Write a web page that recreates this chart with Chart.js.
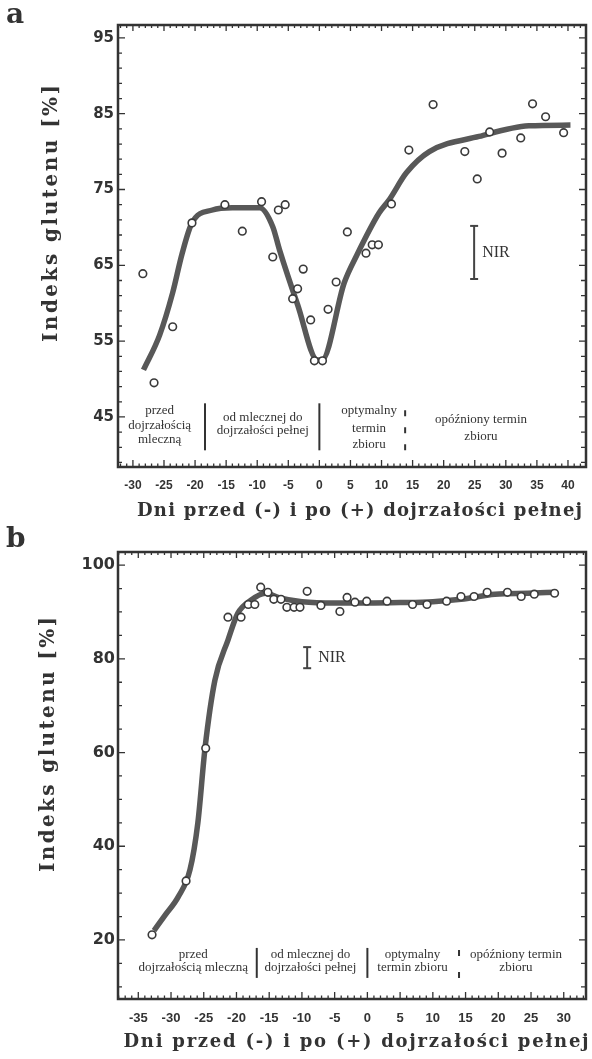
<!DOCTYPE html>
<html><head><meta charset="utf-8">
<script src="https://cdn.jsdelivr.net/npm/chart.js@4.4.1/dist/chart.umd.min.js"></script>
<style>
html,body{margin:0;padding:0;background:#fff;}
#wrap{position:relative;width:592px;height:1059px;overflow:hidden;background:#fff;}
canvas{position:absolute;left:0;}
#ca{top:0;} #cb{top:530px;}
.lab{position:absolute;font:bold 28px 'DejaVu Serif';color:#333;line-height:28px;}
</style></head><body>
<div id="wrap">
<canvas id="ca" width="592" height="530"></canvas>
<canvas id="cb" width="592" height="529"></canvas>
<div class="lab" style="left:6px;top:0px">a</div>
<div class="lab" style="left:6px;top:524px">b</div>
</div>
<script>
// ---------- data: panel a ----------
const A_DAYS = [-28.4,-26.6,-23.6,-20.5,-15.2,-12.4,-9.3,-7.5,-6.6,-5.5,-4.3,-3.5,-2.6,-1.4,-0.8,0.5,1.4,2.7,4.5,7.5,8.5,9.5,11.6,14.4,18.3,23.4,25.4,27.4,29.4,32.4,34.3,36.4,39.3];
const A_GLUTEN = [63.9,49.5,56.9,70.6,73.0,69.5,73.4,66.1,72.3,73.0,60.6,61.9,64.5,57.8,52.4,52.4,59.2,62.8,69.4,66.6,67.7,67.7,73.1,80.2,86.2,80.0,76.4,82.6,79.8,81.8,86.3,84.6,82.5];
const A_FIT_DAYS = [-28.3,-25.7,-23.6,-22.1,-20.5,-17.2,-14.0,-9.6,-7.5,-6.4,-3.5,-0.3,0.4,4.0,6.0,9.6,11.2,14.0,17.7,25.7,33.7,40.4];
const A_FIT_VALUES = [51.2,55.8,61.4,66.5,70.6,72.3,72.6,72.6,70.1,67.0,59.8,52.5,52.5,62.7,66.3,71.9,73.6,77.2,80.0,82.0,83.4,83.5];
const A_NIR_DAY = 24.9;
const A_NIR_RANGE = [63.2, 70.2];
const A_X_TICKS = [-30,-25,-20,-15,-10,-5,0,5,10,15,20,25,30,35,40];
const A_Y_TICKS = [45,55,65,75,85,95];
const A_PHASE_BOUNDS = [-18.4, 0, 13.8];
const A_PHASE_NAMES = [['przed','dojrzałością','mleczną'],['od mlecznej do','dojrzałości pełnej'],['optymalny','termin','zbioru'],['opóźniony termin','zbioru']];

// ---------- data: panel b ----------
const B_DAYS = [-32.9,-27.7,-24.7,-21.3,-19.3,-18.2,-17.2,-16.3,-15.2,-14.3,-13.2,-12.3,-11.2,-10.3,-9.2,-7.1,-4.2,-3.1,-1.9,-0.1,3.0,6.9,9.1,12.1,14.3,16.3,18.3,21.4,23.5,25.5,28.6];
const B_GLUTEN = [21.1,32.6,60.9,88.9,88.9,91.6,91.6,95.3,94.2,92.7,92.7,91.0,91.0,91.0,94.4,91.4,90.1,93.1,92.1,92.3,92.3,91.6,91.6,92.3,93.3,93.3,94.2,94.2,93.3,93.8,94.0];
const B_FIT_DAYS = [-32.6,-30.9,-28.9,-27.1,-25.9,-24.8,-23.3,-21.3,-19.8,-17.8,-15.6,-13.4,-10,-5,0,5,10,14.3,19.5,24.5,28.7];
const B_FIT_VALUES = [22,25.3,29.2,35,45,61,75.4,84,89.7,92.5,94.0,93.0,92.2,91.9,91.9,92.0,92.2,92.7,93.8,94.0,94.2];
const B_NIR_DAY = -9.2;
const B_NIR_RANGE = [78.0, 82.5];
const B_X_TICKS = [-35,-30,-25,-20,-15,-10,-5,0,5,10,15,20,25,30];
const B_Y_TICKS = [20,40,60,80,100];
const B_PHASE_BOUNDS = [-16.9, 0, 14];
const B_PHASE_NAMES = [['przed','dojrzałością mleczną'],['od mlecznej do','dojrzałości pełnej'],['optymalny','termin zbioru'],['opóźniony termin','zbioru']];

const X_TITLE = 'Dni przed (-) i po (+) dojrzałości pełnej';
const Y_TITLE = 'Indeks glutenu [%]';

// ---------- layout (positions / styles) ----------
const INK = '#333';
const LAYOUT_A = {
  canvas: 'ca', pad: {left:0, top:25, right:5, bottom:0}, yW: 118, xH: 63,
  xMin: -32.4, xMax: 42.9, yMin: 38.4, yMax: 96.7,
  yTickStart: 95, yMinorStep: 2, xMajor: 5,
  xTickFont: {family:"'Liberation Sans'", size:12, weight:'bold'}, xTickPad: 11,
  yTickFont: {family:"'DejaVu Sans'", size:15, weight:'bold'}, yTickPad: 4,
  sepRange: [40.6, 46.8], dotDash: [6, 11],
  phaseX: [-25.7, -9.1, 8.0, 26.0],
  phaseY: [[45.9,43.9,42.0],[44.9,43.2],[45.9,43.5,41.4],[44.6,42.4]],
  phaseFont: "13px 'Liberation Serif'",
  nirFont: "16px 'Liberation Serif'", nirGap: 8,
  xTitle: {cx:359.5, cy:511.5, w:445, font:"bold 18px 'DejaVu Serif'"},
  yTitle: {cx:51.5, cy:213.5, w:257, font:"bold 20px 'DejaVu Serif'"}
};
const LAYOUT_B = {
  canvas: 'cb', pad: {left:0, top:22, right:6, bottom:0}, yW: 118, xH: 60,
  xMin: -38.1, xMax: 33.4, yMin: 7.4, yMax: 102.8,
  yTickStart: 100, yMinorStep: 5, xMajor: 5,
  xTickFont: {family:"'Liberation Sans'", size:13, weight:'bold'}, xTickPad: 12,
  yTickFont: {family:"'DejaVu Sans'", size:16, weight:'bold'}, yTickPad: 3,
  sepRange: [11.9, 18.3], dotDash: [6, 16],
  phaseX: [-26.6, -8.7, 6.9, 22.7],
  phaseY: [[16.8,14.0],[16.8,14.0],[16.8,14.0],[16.8,14.0]],
  phaseFont: "13px 'Liberation Serif'",
  nirFont: "16px 'Liberation Serif'", nirGap: 11,
  xTitle: {cx:356, cy:512, w:465, font:"bold 18px 'DejaVu Serif'"},
  yTitle: {cx:48.5, cy:214.5, w:255, font:"bold 20px 'DejaVu Serif'"}
};

function spacedText(ctx, text, cx, cy, font, target, rot) {
  ctx.save();
  ctx.font = font;
  ctx.letterSpacing = '0px';
  const w = ctx.measureText(text).width;
  const sp = (target - w) / (text.length - 1);
  ctx.letterSpacing = sp.toFixed(2) + 'px';
  ctx.translate(cx, cy);
  if (rot) ctx.rotate(rot);
  ctx.textAlign = 'left';
  ctx.textBaseline = 'middle';
  ctx.fillStyle = INK;
  ctx.fillText(text, -target / 2, 0);
  ctx.restore();
}

const decor = {
  id: 'decor',
  afterDraw(chart, args, o) {
    const {ctx, chartArea: ca} = chart;
    const x = chart.scales.x, y = chart.scales.y;
    const L = o.layout;
    ctx.save();
    // frame
    ctx.strokeStyle = INK; ctx.lineWidth = 2.5;
    ctx.strokeRect(ca.left, ca.top, ca.right - ca.left, ca.bottom - ca.top);
    // inward ticks
    ctx.lineWidth = 1.3; ctx.beginPath();
    for (let d = Math.ceil(x.min); d <= x.max; d++) {
      const px = x.getPixelForValue(d);
      const major = d % L.xMajor === 0;
      ctx.moveTo(px, ca.bottom); ctx.lineTo(px, ca.bottom - (major ? 7 : 3.5));
      ctx.moveTo(px, ca.top); ctx.lineTo(px, ca.top + (major ? 6 : 3));
    }
    for (let v = L.yTickStart; v >= y.min; v -= L.yMinorStep) {
      const py = y.getPixelForValue(v);
      const major = o.yLabels.includes(v);
      ctx.moveTo(ca.left, py); ctx.lineTo(ca.left + (major ? 7 : 4), py);
      ctx.moveTo(ca.right, py); ctx.lineTo(ca.right - (major ? 7 : 5), py);
    }
    ctx.stroke();
    // phase labels
    ctx.fillStyle = INK; ctx.font = L.phaseFont;
    ctx.textAlign = 'center'; ctx.textBaseline = 'middle';
    o.phases.forEach((lines, i) => {
      lines.forEach((t, j) => {
        ctx.fillText(t, x.getPixelForValue(L.phaseX[i]), y.getPixelForValue(L.phaseY[i][j]));
      });
    });
    // NIR text
    ctx.font = L.nirFont; ctx.textAlign = 'left';
    ctx.fillText('NIR', x.getPixelForValue(o.nirDay) + L.nirGap, y.getPixelForValue((o.nirRange[0] + o.nirRange[1]) / 2));
    ctx.restore();
    // axis titles
    const ox = chart.canvas.offsetLeft;
    spacedText(ctx, X_TITLE, L.xTitle.cx, L.xTitle.cy, L.xTitle.font, L.xTitle.w, 0);
    spacedText(ctx, Y_TITLE, L.yTitle.cx, L.yTitle.cy, L.yTitle.font, L.yTitle.w, -Math.PI / 2);
  }
};

function build(L, days, vals, fitD, fitV, nirDay, nirRange, xTicks, yTicks, bounds, phases) {
  const pts = days.map((d, i) => ({x: d, y: vals[i]}));
  const fit = fitD.map((d, i) => ({x: d, y: fitV[i]}));
  const seps = bounds.map((b, i) => ({
    type: 'line', showLine: true,
    data: [{x: b, y: L.sepRange[0]}, {x: b, y: L.sepRange[1]}],
    borderColor: INK, borderWidth: 2, borderDash: i === 2 ? L.dotDash : [],
    pointRadius: 0, order: 6
  }));
  return new Chart(document.getElementById(L.canvas), {
    type: 'scatter',
    data: { datasets: [
      ...seps,
      { type: 'line', showLine: true,
        data: [{x: nirDay, y: nirRange[0]}, {x: nirDay, y: nirRange[1]}],
        borderColor: '#444', borderWidth: 2,
        pointStyle: 'line', pointRadius: 4, pointBorderWidth: 2, pointBorderColor: '#444',
        order: 5 },
      { type: 'line', showLine: true, data: fit,
        borderColor: '#585858', borderWidth: 5.5, pointRadius: 0,
        cubicInterpolationMode: 'monotone', borderCapStyle: 'butt', order: 3 },
      { type: 'scatter', data: pts,
        pointRadius: 3.8, pointBorderWidth: 1.6, pointBorderColor: '#3a3a3a',
        pointBackgroundColor: '#fff', order: 1 }
    ]},
    options: {
      responsive: false, animation: false, devicePixelRatio: 1, events: [],
      layout: { padding: L.pad },
      plugins: { legend: {display: false}, tooltip: {enabled: false},
        decor: { layout: L, yLabels: yTicks, phases: phases, nirDay: nirDay, nirRange: nirRange } },
      scales: {
        x: {
          type: 'linear', min: L.xMin, max: L.xMax,
          afterBuildTicks: s => { s.ticks = xTicks.map(v => ({value: v})); },
          afterFit: s => { s.height = L.xH; },
          grid: {display: false, drawTicks: false}, border: {display: false},
          ticks: { autoSkip: false, maxRotation: 0, padding: L.xTickPad, color: INK,
                   font: L.xTickFont, callback: v => String(v) }
        },
        y: {
          type: 'linear', min: L.yMin, max: L.yMax,
          afterBuildTicks: s => { s.ticks = yTicks.map(v => ({value: v})); },
          afterFit: s => { s.width = L.yW; },
          grid: {display: false, drawTicks: false}, border: {display: false},
          ticks: { autoSkip: false, padding: L.yTickPad, color: INK,
                   font: L.yTickFont, callback: v => String(v) }
        }
      }
    },
    plugins: [decor]
  });
}

build(LAYOUT_A, A_DAYS, A_GLUTEN, A_FIT_DAYS, A_FIT_VALUES, A_NIR_DAY, A_NIR_RANGE, A_X_TICKS, A_Y_TICKS, A_PHASE_BOUNDS, A_PHASE_NAMES);
build(LAYOUT_B, B_DAYS, B_GLUTEN, B_FIT_DAYS, B_FIT_VALUES, B_NIR_DAY, B_NIR_RANGE, B_X_TICKS, B_Y_TICKS, B_PHASE_BOUNDS, B_PHASE_NAMES);
</script>
</body></html>
